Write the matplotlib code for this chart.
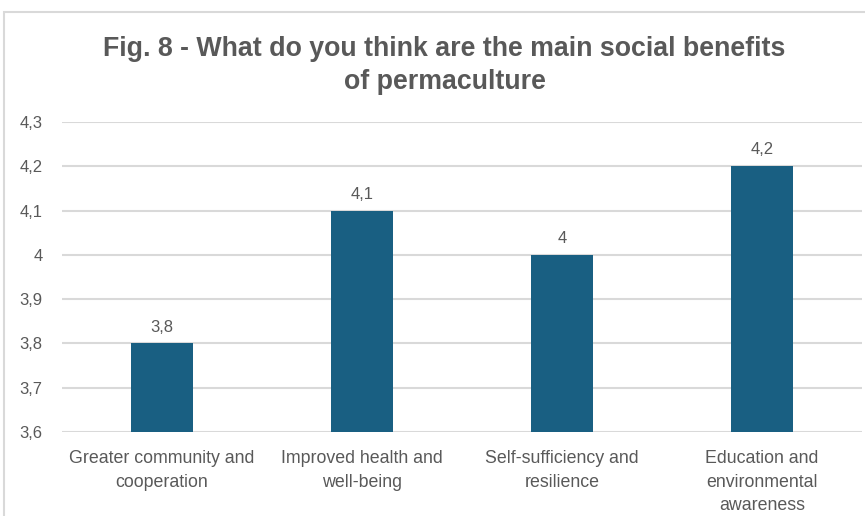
import numpy as np
import matplotlib.pyplot as plt
from matplotlib.patches import Rectangle
from matplotlib.ticker import FuncFormatter

categories = ["Greater community and\ncooperation",
              "Improved health and\nwell-being",
              "Self-sufficiency and\nresilience",
              "Education and\nenvironmental\nawareness"]
scores = [3.8, 4.1, 4.0, 4.2]
y_ticks = [3.6, 3.7, 3.8, 3.9, 4.0, 4.1, 4.2, 4.3]

BAR = "#195f82"
GREY = "#595959"
GRID = "#d9d9d9"

plt.rcParams['font.family'] = ['Liberation Sans', 'DejaVu Sans']


def comma(v, pos=None):
    s = f"{v:.1f}".rstrip("0").rstrip(".")
    return s.replace(".", ",")


fig = plt.figure(figsize=(8.65, 5.16), dpi=100)
ax = fig.add_axes([0.0717, 0.1628, 0.925, 0.6008])

# chart frame
fig.patches.append(Rectangle((4 / 865, -0.1), 1.2, 1 - 12 / 516 + 0.1,
                             transform=fig.transFigure, fill=False,
                             edgecolor=GRID, linewidth=1.5))

x = np.arange(len(categories))
bars = ax.bar(x, [s - y_ticks[0] for s in scores], bottom=y_ticks[0],
              width=0.31, color=BAR, zorder=3)

for xi, s in zip(x, scores):
    ax.text(xi, s + 0.02, comma(s), ha="center", va="bottom",
            fontsize=12, color=GREY)

ax.set_xlim(-0.5, len(categories) - 0.5)
ax.set_ylim(y_ticks[0], y_ticks[-1])
ax.set_yticks(y_ticks)
ax.yaxis.set_major_formatter(FuncFormatter(comma))
ax.set_xticks(x)
ax.set_xticklabels(categories, fontsize=12.8, color=GREY, linespacing=1.5)
ax.tick_params(axis="y", labelsize=12, labelcolor=GREY, length=0, pad=14)
ax.tick_params(axis="x", length=0, pad=13)
ax.grid(axis="y", color=GRID, linewidth=1.5, zorder=0)
for sp in ax.spines.values():
    sp.set_visible(False)

fig.text(0.514, 0.906, "Fig. 8 - What do you think are the main social benefits",
         ha="center", va="center", fontsize=19.3, fontweight="bold", color=GREY)
fig.text(0.514, 0.841, "of permaculture",
         ha="center", va="center", fontsize=19.3, fontweight="bold", color=GREY)

fig.savefig("out.png", dpi=100)
